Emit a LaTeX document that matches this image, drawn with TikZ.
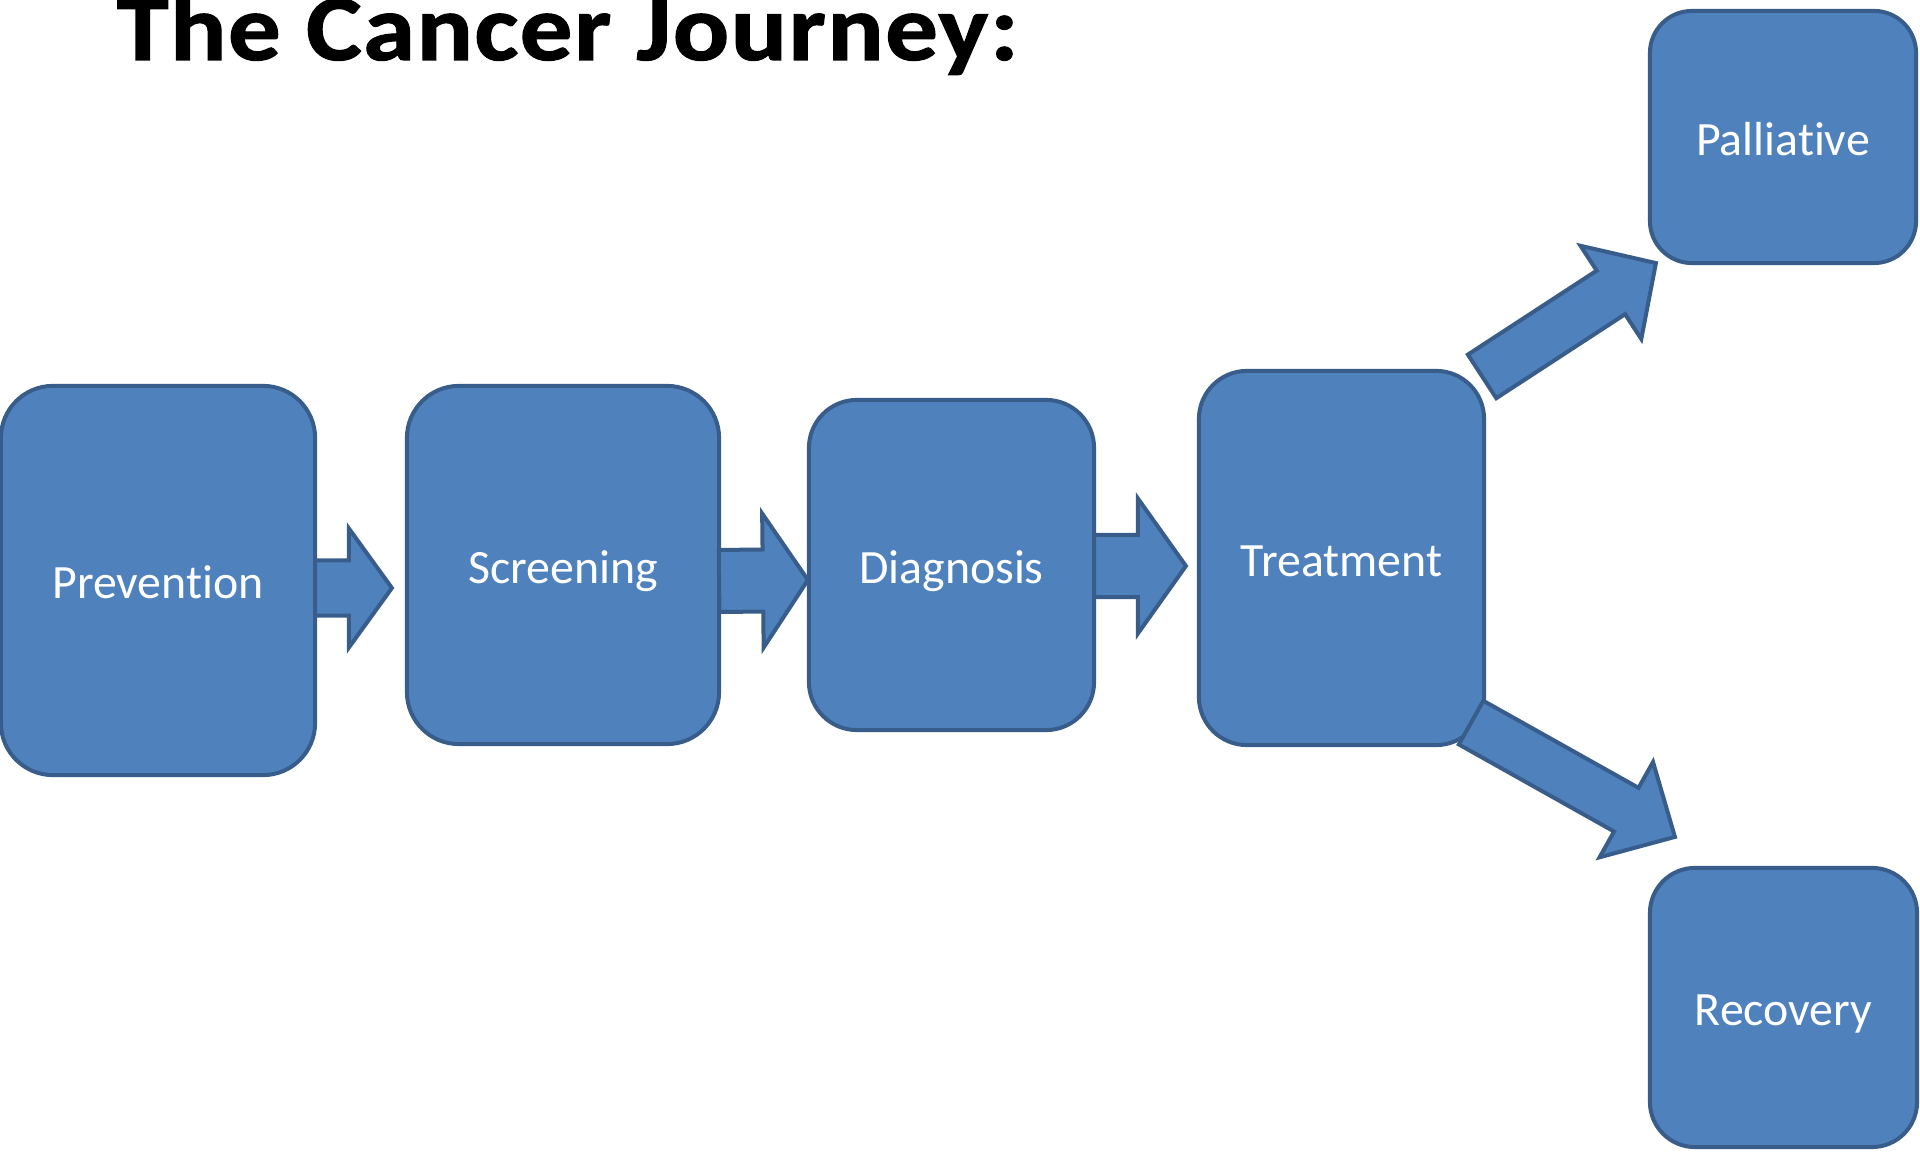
\documentclass[tikz,border=0pt]{standalone}
\usepackage{fontspec}
\setmainfont{Carlito}[Ligatures={NoCommon}]
\usepackage{tikz}
\usetikzlibrary{calc}

\definecolor{boxfill}{HTML}{4F81BD}
\definecolor{boxline}{HTML}{385D8A}

\tikzset{
  stagebox/.style={draw=boxline, fill=boxfill, line width=0.4mm, rounded corners=0.48cm,
    text=white, font=\fontsize{13.6}{16}\selectfont, inner sep=0pt, outer sep=0pt,
    text height=0.36cm, text depth=0cm},
  flow/.style={draw=boxline, fill=boxfill, line width=0.4mm, line join=miter}
}

% block arrow: tail, tip, half shaft, half head, head length
\newcommand{\blockarrow}[5]{%
  \coordinate (#1-hb) at ($(#2)!#5!(#1)$);
  \draw[flow] ($(#1)!#3!90:(#2)$) -- ($(#1-hb)!#3!-90:(#1)$) -- ($(#1-hb)!#4!-90:(#1)$)
    -- (#2) -- ($(#1-hb)!#4!90:(#1)$) -- ($(#1-hb)!#3!90:(#1)$) -- ($(#1)!#3!-90:(#2)$) -- cycle;
}

\begin{document}
\begin{tikzpicture}[x=0.01cm, y=-0.01cm]
  \useasboundingbox (0,0) rectangle (1920,1152);

  \node[anchor=base west, inner sep=0pt, font=\fontsize{26.7}{32}\selectfont\bfseries\addfontfeatures{FakeStretch=1.12, FakeBold=1.2, LetterSpace=1.5}] (title) at (116,60) {The Cancer Journey:}; % title

  \node[stagebox, rounded corners=0.52cm, minimum width=3.14cm, minimum height=3.89cm] (prev) at (158,580.5) {Prevention};
  \node[stagebox, rounded corners=0.52cm, minimum width=3.12cm, minimum height=3.58cm] (scr) at (563,565) {Screening};
  \node[stagebox, minimum width=2.85cm, minimum height=3.30cm] (diag) at (951.5,565) {Diagnosis};
  \node[stagebox, minimum width=2.85cm, minimum height=3.74cm] (treat) at (1341.5,558) {Treatment};
  \node[stagebox, rounded corners=0.42cm, minimum width=2.66cm, minimum height=2.52cm] (pall) at (1783,137) {Palliative};
  \node[stagebox, rounded corners=0.45cm, minimum width=2.67cm, minimum height=2.79cm] (reco) at (1783.5,1007.5) {Recovery};

  % arrow ends
  \coordinate (a1s) at ($(prev.east)+(0,7.5)$);
  \coordinate (a1e) at ($(scr.west)+(-15,23)$);
  \coordinate (a2s) at ($(scr.east)+(0,16)$);
  \coordinate (a2e) at ($(diag.west)+(-1,15)$);
  \coordinate (a3s) at ($(diag.east)+(0,1)$);
  \coordinate (a3e) at ($(treat.west)+(-13,8)$);
  \coordinate (aps) at ($(treat.north east)+(-2,5.5)$);
  \coordinate (ape) at ($(pall.south west)+(6,0)$);
  \coordinate (ars) at ($(treat.south east)+(-13,-22.5)$);
  \coordinate (are) at ($(reco.north west)+(25,-31)$);

  \blockarrow{a1s}{a1e}{0.275cm}{0.595cm}{0.43cm}
  \blockarrow{a2s}{a2e}{0.31cm}{0.67cm}{0.45cm}
  \blockarrow{a3s}{a3e}{0.31cm}{0.675cm}{0.48cm}
  \blockarrow{aps}{ape}{0.26cm}{0.556cm}{0.537cm}
  \blockarrow{ars}{are}{0.25cm}{0.546cm}{0.557cm}
\end{tikzpicture}
\end{document}
